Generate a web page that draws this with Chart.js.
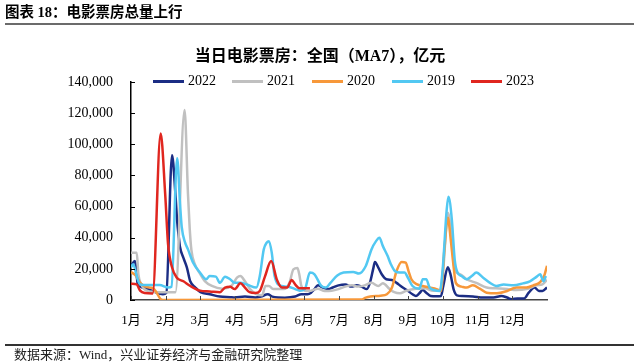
<!DOCTYPE html>
<html>
<head>
<meta charset="utf-8">
<script src="https://cdn.jsdelivr.net/npm/chart.js@4"></script>
<style>
  html, body { margin:0; padding:0; background:#fff; }
  #wrap { position:relative; width:640px; height:364px; overflow:hidden; }
  #c { position:absolute; left:0; top:0; }
  .t { position:absolute; white-space:nowrap; font-family:'Liberation Serif','Noto Sans CJK SC',serif; color:#000; }
  .hl { position:absolute; }
  .lg { position:absolute; height:3px; }
</style>
</head>
<body>
<div id="wrap">
  <canvas id="c" width="640" height="364"></canvas>
  <div class="t" id="hdr" style="left:5px; top:3px; font-size:14.5px; font-weight:bold; line-height:18px;">图表 18：电影票房总量上行</div>
  <div class="hl" style="left:5px; top:23px; width:629px; height:2px; background:#6b6b6b;"></div>
  <div class="t" id="ttl" style="left:0; width:640px; text-align:center; top:47px; font-size:16px; font-weight:bold; line-height:18px;">当日电影票房：全国（MA7），亿元</div>
  <div id="legend"></div>
  <div class="hl" style="left:5px; top:344px; width:629px; height:1.5px; background:#333;"></div>
  <div class="t" style="left:14px; top:347px; font-size:13px; line-height:16px; color:#222;">数据来源：Wind，兴业证券经济与金融研究院整理</div>
</div>
<script>
// ---- data (day of year, value) ----
const monthLabels = ['1月','2月','3月','4月','5月','6月','7月','8月','9月','10月','11月','12月'];
const yTicks = [0,20000,40000,60000,80000,100000,120000,140000];
const seriesNames = ['2022','2021','2020','2019','2023'];

const y2022 = [[0,22000],[3.5,25000],[6,10000],[10.5,8000],[19,5800],[28,3700],[31,4500],[36,93000],[39,67800],[40.5,50600],[42,40000],[43,34000],[46,27000],[49,21000],[52,12000],[56.5,8000],[61,5000],[69,3700],[78,2200],[87,1800],[91,1600],[100,2200],[109,1600],[114,2200],[120,3700],[124,2200],[129,1600],[135,1500],[144,2200],[149.5,3700],[155,3700],[158,4700],[161,7000],[164,9400],[168.5,8000],[173,7000],[177,8000],[182,9400],[188,10000],[193.5,8600],[198,9400],[202,8600],[207,7000],[210,12000],[212.5,20000],[214,24400],[217,20800],[220,16500],[224,13300],[229,12800],[233,11000],[237.5,8500],[242,6400],[247,3700],[250,2600],[253,4300],[256,6400],[259,4700],[263,2600],[268,2400],[272,2600],[274,9000],[278,21000],[280.5,16000],[283,7000],[286,3000],[291,2600],[300,2300],[309,1600],[318,1600],[325,2600],[330,1600],[334,500],[339,1000],[345,1000],[349,4700],[354,8000],[358,5800],[361,5800],[365,8000]];

const y2021 = [[0,30400],[5,30400],[6.5,16500],[9,10000],[14,6000],[25,5000],[39,5000],[47,122000],[50,68000],[51.5,46000],[53,32000],[56,23000],[60.5,17000],[65,12000],[71,9000],[80,7300],[88.5,9400],[93,14300],[96,15400],[100,12000],[104.5,7000],[110,3700],[115,3000],[118,9000],[121,9000],[125,7000],[130,7000],[134,7000],[139,11000],[142.5,19700],[146,20500],[147.5,17000],[149.5,9000],[154,5800],[158,6000],[164,7300],[170,5800],[176,6000],[182,7000],[188,8600],[194,9400],[199,8600],[205,9400],[211,11000],[217,9000],[221,10700],[227,7000],[231,5000],[236,4300],[241,5800],[250,7300],[258,7500],[265,6000],[271,6000],[274,20000],[278,56000],[281,43000],[284,19700],[289,16500],[294.5,13300],[303,11000],[312,8000],[320,7500],[330,7000],[338,6400],[347,7000],[356,9400],[361,10000],[365,13000]];

const y2020 = [[0,18000],[4.5,15400],[8,11000],[14,8300],[19.5,7500],[22.5,4700],[26,500],[28,0],[202,300],[206,1500],[210,2200],[219,2800],[224.5,3700],[229,8000],[233,18600],[237.5,24400],[241,24000],[243.5,18600],[246,13300],[251,10000],[256,9000],[262,8000],[268,7000],[272,5800],[275,32500],[278,52800],[280.5,39000],[283,21800],[285,11000],[290,8600],[294.5,8000],[300,9400],[306,7300],[312,4700],[321,4300],[330,5800],[338,8000],[347,8000],[353,9400],[359,11500],[362.5,15400],[365,22000]];

const y2019 = [[0,21000],[2,23000],[5,15400],[8,10000],[14,9600],[25,9600],[33,8000],[35.5,8500],[40.5,91000],[43,62000],[44.5,47000],[47.5,36800],[50,32500],[54.5,24000],[60.5,17600],[66,13300],[69,15400],[74.5,15000],[78,11000],[82.5,15000],[87,13300],[91,11000],[96,11000],[101.5,10000],[110,8000],[113,15400],[116.5,32500],[119,36800],[121,37800],[123.5,30400],[126,15400],[132,9000],[138,8500],[144,7000],[148,6000],[152.5,7000],[157,17600],[161,16500],[167,9000],[171,8000],[175,11000],[181,15800],[186.5,17600],[195,18000],[200,17000],[206,21800],[211,32500],[215,37800],[218,40000],[221,34600],[225,28500],[228,23000],[231.5,18600],[236,17600],[240,17600],[243,14300],[247,9000],[253,7300],[256,13300],[259,13300],[262,8000],[266,6400],[271,5800],[273.5,20000],[277,58000],[278.5,66300],[281.5,51700],[284,26000],[286.5,17600],[290,15400],[294.5,13300],[299,15400],[303,17600],[309,14300],[315,11000],[320.5,9000],[327,10000],[335.5,9400],[344,10700],[350,12000],[356,15000],[359,16500],[362,12000],[364,15400]];

const y2023 = [[0,10500],[5,10000],[8,6000],[12,4500],[19,4200],[26,107000],[30,68000],[32.5,36000],[36,21000],[40,14500],[46,12000],[52,9000],[60.5,6000],[69,5500],[78,5000],[82.5,8000],[87,8500],[91,7000],[96,10700],[100,8000],[104,5000],[109,4500],[113,5800],[117.5,15000],[123,25000],[128,13000],[132.5,8000],[137,8000],[141,12800],[144,10000],[148,7500],[153,7500],[157,7500]];

const seriesData = [y2022, y2021, y2020, y2019, y2023];
const colors = ['#1b2d84', '#c0c0c0', '#f7983a', '#52c8f2', '#e0261f'];
const orders = [4, 3, 2, 1, 0];

// ---- legend (HTML) ----
const legendPos = [[153,188],[232,267],[312,347],[392,427],[471,506]];
const lg = document.getElementById('legend');
seriesNames.forEach((n,i)=>{
  const l = document.createElement('div');
  l.className = 'lg';
  l.style.left = legendPos[i][0]+'px'; l.style.top = '80px'; l.style.width = '31px'; l.style.background = colors[i];
  lg.appendChild(l);
  const t = document.createElement('div');
  t.className = 't';
  t.style.left = legendPos[i][1]+'px'; t.style.top = '72px'; t.style.fontSize = '14px'; t.style.lineHeight = '18px';
  t.textContent = n;
  lg.appendChild(t);
});

const insideTicks = {
  id: 'insideTicks',
  afterDraw(chart) {
    const ctx = chart.ctx, ca = chart.chartArea;
    const xs = chart.scales.x, ys = chart.scales.y;
    ctx.save();
    ctx.lineWidth = 1;
    ctx.strokeStyle = '#000';
    ys.ticks.forEach(t => {
      const y = Math.round(ys.getPixelForValue(t.value)) + 0.5;
      ctx.beginPath(); ctx.moveTo(ca.left, y); ctx.lineTo(ca.left + 4, y); ctx.stroke();
    });
    ctx.strokeStyle = '#444';
    xs.ticks.forEach(t => {
      const x = Math.round(xs.getPixelForValue(t.value)) + 0.5;
      ctx.beginPath(); ctx.moveTo(x, ca.bottom); ctx.lineTo(x, ca.bottom - 4); ctx.stroke();
    });
    ctx.restore();
  }
};

const numFont = { family: "'Liberation Serif','Noto Sans CJK SC',serif", size: 14 };

new Chart(document.getElementById('c'), {
  type: 'line',
  data: {
    datasets: seriesNames.map((n, i) => ({
      label: n,
      data: seriesData[i].map(p => ({ x: p[0], y: p[1] })),
      borderColor: colors[i],
      backgroundColor: colors[i],
      borderWidth: 2.5,
      pointRadius: 0,
      cubicInterpolationMode: 'monotone',
      fill: false,
      order: orders[i]
    }))
  },
  options: {
    responsive: false,
    devicePixelRatio: 1,
    animation: false,
    layout: { padding: { left: 0, top: 82, right: 93, bottom: 0 } },
    plugins: { legend: { display: false }, tooltip: { enabled: false }, title: { display: false } },
    scales: {
      x: {
        type: 'linear', min: 0, max: 365,
        grid: { display: false, drawTicks: false },
        border: { display: true, color: '#444', width: 1.5 },
        afterBuildTicks: s => { s.ticks = monthLabels.map((m, i) => ({ value: i * 365 / 12 })); },
        afterFit: s => { s.height = 64; },
        ticks: {
          autoSkip: false, maxRotation: 0, padding: 13, color: '#000',
          font: { family: numFont.family, size: 13 },
          callback: (v, i) => monthLabels[i]
        }
      },
      y: {
        min: 0, max: 140000,
        grid: { display: false, drawTicks: false },
        border: { display: true, color: '#000', width: 1.5 },
        afterBuildTicks: s => { s.ticks = yTicks.map(v => ({ value: v })); },
        afterFit: s => { s.width = 131; },
        ticks: {
          padding: 18, color: '#000', font: numFont,
          callback: v => v.toLocaleString('en-US')
        }
      }
    }
  },
  plugins: [insideTicks]
});
</script>
</body>
</html>
